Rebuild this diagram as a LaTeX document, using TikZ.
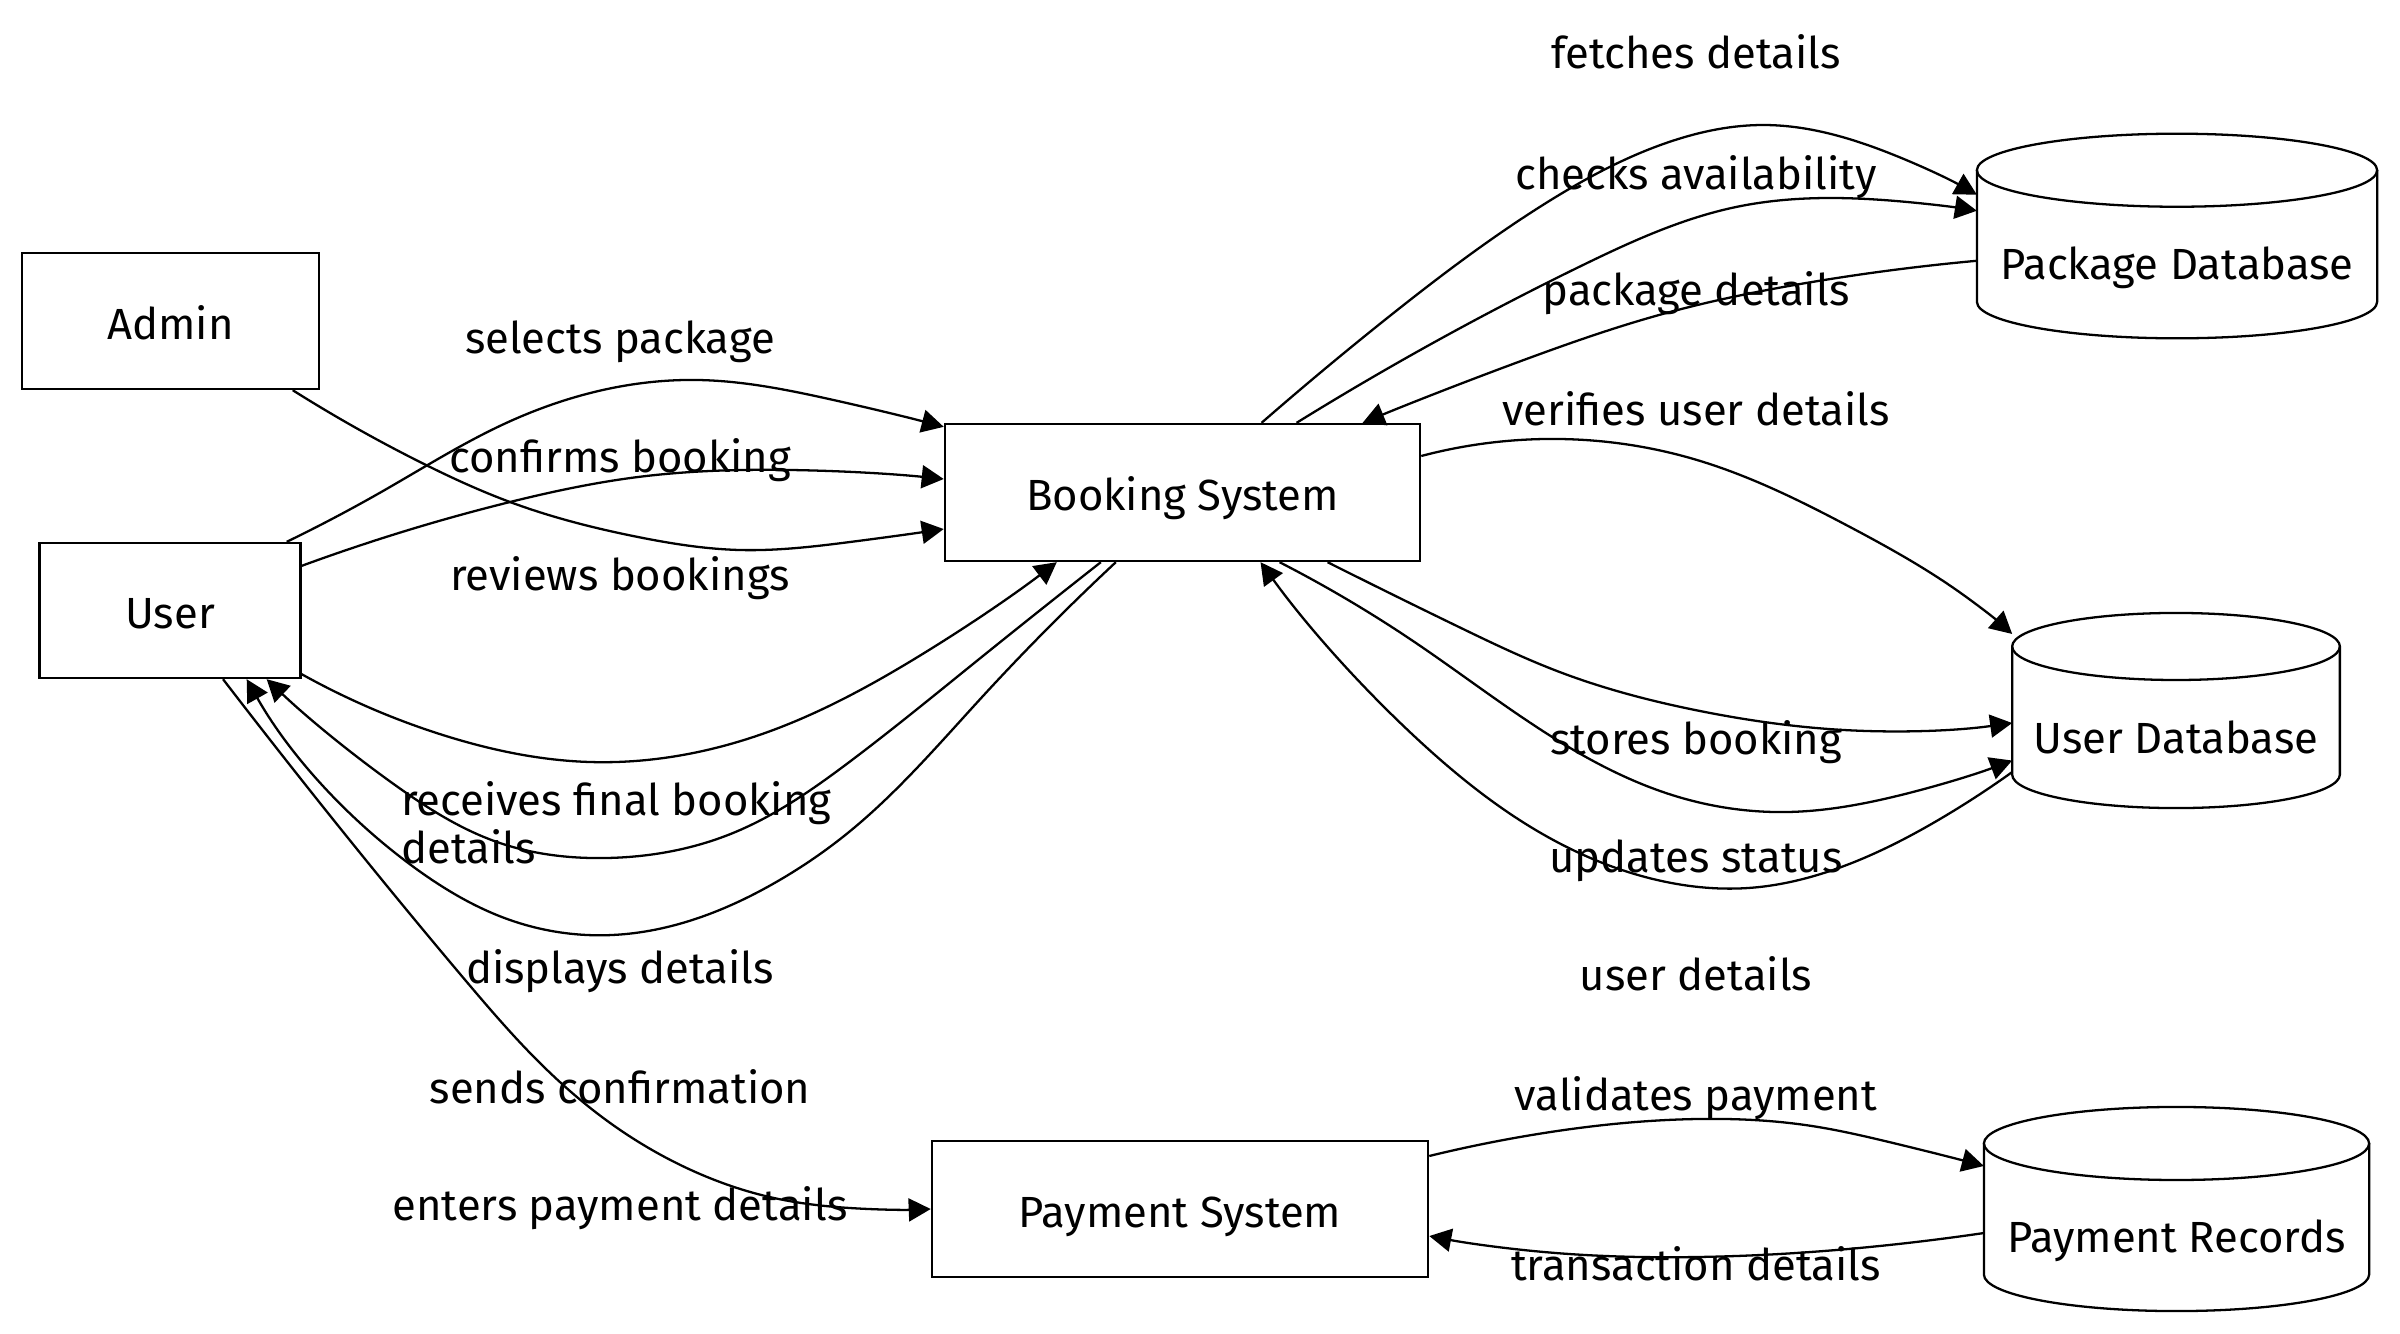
\documentclass[tikz,border=0pt]{standalone}
\usepackage{fontspec}
\setmainfont{Fira Sans}
\usetikzlibrary{arrows.meta}
\usetikzlibrary{positioning}
\usetikzlibrary{calc}
\usetikzlibrary{hobby}

% outline of a database can round a node: node, x radius, y radius
\newcommand{\dbcan}[3]{%
  \draw[line width=0.65pt] ([yshift=-#3]#1.north west) -- ([yshift=#3]#1.south west)
    arc[start angle=180, end angle=360, x radius=#2, y radius=#3]
    -- ([yshift=-#3]#1.north east);
  \draw[line width=0.65pt] ([yshift=-#3]#1.north) ellipse [x radius=#2, y radius=#3];
}

\begin{document}
\begin{tikzpicture}[x=0.01cm, y=-0.01cm,
    font=\fontsize{12.4}{13.6}\selectfont,
    box/.style={draw, line width=0.65pt, fill=white, inner sep=0pt, text height=0.36cm, text depth=0pt},
    db/.style={inner sep=0pt, outer sep=0pt, text height=0.86cm, text depth=0pt},
    lbl/.style={anchor=base, inner sep=0pt},
    flow/.style={line width=0.65pt, -{Triangle[length=0.22cm, width=0.23cm]}, use Hobby shortcut}]
				\useasboundingbox (0,0) rectangle (2400,1333);
				% processes
				\node[box, minimum width=2.97cm, minimum height=1.36cm] (admin) at (170.5,321) {Admin};
				\node[box, minimum width=2.61cm, minimum height=1.35cm] (user) at (170,610.5) {User};
				\node[box, minimum width=4.75cm, minimum height=1.37cm] (booking) at (1182.5,492.5) {Booking System};
				\node[box, minimum width=4.96cm, minimum height=1.36cm] (payment) at (1180,1209) {Payment System};
				% stores
				\node[db, minimum width=4cm, minimum height=2.045cm] (pkgdb) at (2177,236) {Package Database};
				\node[db, minimum width=3.275cm, minimum height=1.95cm] (userdb) at (2176,710.5) {User Database};
				\node[db, minimum width=3.85cm, minimum height=2.04cm] (payrec) at (2176.5,1209) {Payment Records};
				\dbcan{pkgdb}{2cm}{0.365cm}
				\dbcan{userdb}{1.6375cm}{0.335cm}
				\dbcan{payrec}{1.925cm}{0.365cm}
				
				% flows on the left
				\draw[flow] ([xshift=-0.15cm]user.north east) .. (383,491) .. (504,424) .. (698,380) .. (829,399) .. ([yshift=-0.04cm]booking.north west);
				\draw[flow] ([yshift=-0.24cm]user.north east) .. (510,502) .. (638,477) .. (791,470) .. ([yshift=0.135cm]booking.west);
				\draw[flow] ([xshift=-0.275cm]admin.south east) .. (424,464) .. (510,502) .. (638,537) .. (740,550) .. (850,542) .. ([yshift=-0.365cm]booking.west);
				\draw[flow] ([yshift=0.05cm]user.south east) .. (446,736) .. (590,762) .. (765,733) .. (916,658) .. ([xshift=1.13cm]booking.south west);
				\draw[flow] ([xshift=1.57cm]booking.south west) .. (973,664) .. (848,763) .. (733,833) .. (606,858) .. (497,842) .. (395,785) .. ([xshift=-0.35cm]user.south east);
				\draw[flow] ([xshift=1.72cm]booking.south west) .. (983,696) .. (849,832) .. (778,881) .. (612,935) .. (510,920) .. (415,868) .. ([xshift=-0.55cm]user.south east);
				\draw[flow] ([xshift=0.53cm]user.south) .. (344,833) .. (466,981) .. (532,1055) .. (602,1117) .. (691,1170) .. (774,1198) .. (850,1208) .. (payment.west);
				
				% flows on the right
				\draw[flow] ([xshift=0.79cm]booking.north) .. (1391,315) .. (1546,203) .. (1672,141) .. (1763,125) .. (1889,153) .. ([yshift=-0.61cm]pkgdb.north west);
				\draw[flow] ([xshift=1.14cm]booking.north) .. (1583,265) .. (1736,207) .. (1833,198) .. (1896,201) .. ([yshift=-0.77cm]pkgdb.north west);
				\draw[flow] ([yshift=-1.27cm]pkgdb.north west) .. (1812,282) .. (1659,315) .. (1521,361) .. ([xshift=1.8cm]booking.north);
				\draw[flow] ([yshift=0.365cm]booking.east) .. (1560,439) .. (1697,460) .. (1850,527) .. (1955,589) .. ([yshift=-0.21cm]userdb.north west);
				\draw[flow] ([xshift=1.45cm]booking.south) .. (1461,628) .. (1557,671) .. (1700,711) .. (1844,730) .. ([yshift=-0.125cm]userdb.west);
				\draw[flow] ([xshift=0.97cm]booking.south) .. (1413,641) .. (1557,740) .. (1672,795) .. (1787,812) .. (1901,795) .. ([yshift=-0.5cm]userdb.west);
				\draw[flow] ([yshift=-0.615cm]userdb.west) .. (1940,819) .. (1844,866) .. (1748,888) .. (1653,879) .. (1557,842) .. (1413,735) .. ([xshift=0.78cm]booking.south);
				\draw[flow] ([yshift=0.53cm]payment.east) .. (1544,1133) .. (1697,1119) .. (1812,1126) .. (1889,1142) .. ([yshift=-0.59cm]payrec.north west);
				\draw[flow] ([yshift=-1.26cm]payrec.north west) .. (1889,1245) .. (1697,1257) .. (1544,1252) .. ([yshift=-0.27cm]payment.east);
				
				% labels
				\node[lbl] (lselect) at (620,353) {selects package};
				\node[lbl] (lconfirm) at (620,472) {confirms booking};
				\node[lbl] (lreview) at (620,590) {reviews bookings};
				\node[lbl, anchor=base west, align=left] (lreceive) at (400.5,863) {receives final booking\\details};
				\node[lbl] (ldisplay) at (620,983) {displays details};
				\node[lbl] (lsend) at (620,1103) {sends confirmation};
				\node[lbl] (lenter) at (620,1220.5) {enters payment details};
				\node[lbl] (lfetch) at (1696,68) {fetches details};
				\node[lbl] (lcheck) at (1696,189) {checks availability};
				\node[lbl] (lpkg) at (1696,305) {package details};
				\node[lbl] (lverify) at (1696,425) {verifies user details};
				\node[lbl] (lstore) at (1696,754) {stores booking};
				\node[lbl] (lupdate) at (1696,872.5) {updates status};
				\node[lbl] (luser) at (1696,990) {user details};
				\node[lbl] (lvalid) at (1696,1110) {validates payment};
				\node[lbl] (ltrans) at (1696,1280) {transaction details};
			\end{tikzpicture}
\end{document}
